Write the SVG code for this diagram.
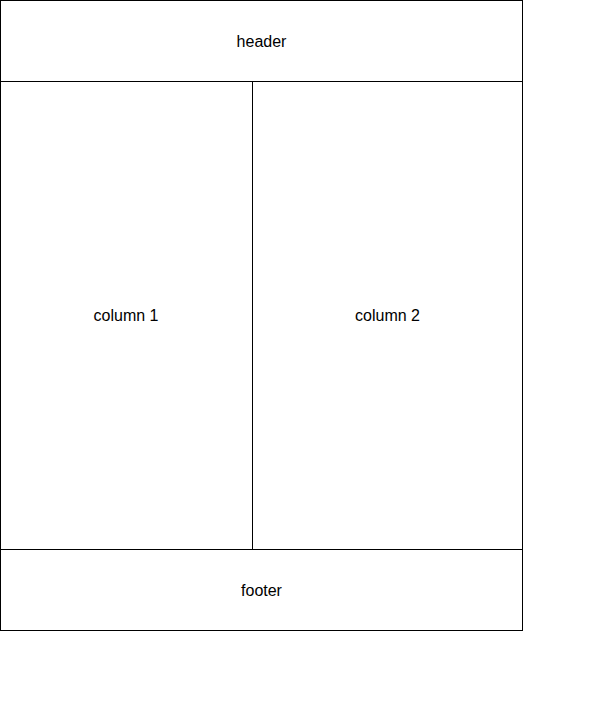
<svg xmlns="http://www.w3.org/2000/svg" width="594" height="702" viewBox="0 0 594 702">
<style>
rect.box{fill:#ffffff;stroke:#000000;stroke-width:1}
text{font-family:"Liberation Sans",Arial,Helvetica,sans-serif;font-size:16px;fill:#000000;text-anchor:middle;dominant-baseline:central}
</style>
<rect x="0" y="0" width="594" height="702" fill="#ffffff"/>
<g id="header"><rect class="box" x="0.5" y="0.5" width="522" height="81"/><text x="261.5" y="41">header</text></g>
<g id="column1"><rect class="box" x="0.5" y="81.5" width="252" height="468"/><text x="126" y="315.5">column 1</text></g>
<g id="column2"><rect class="box" x="252.5" y="81.5" width="270" height="468"/><text x="387.5" y="315.5">column 2</text></g>
<g id="footer"><rect class="box" x="0.5" y="549.5" width="522" height="81"/><text x="261.5" y="590">footer</text></g>
<g id="connectors"></g>
</svg>
